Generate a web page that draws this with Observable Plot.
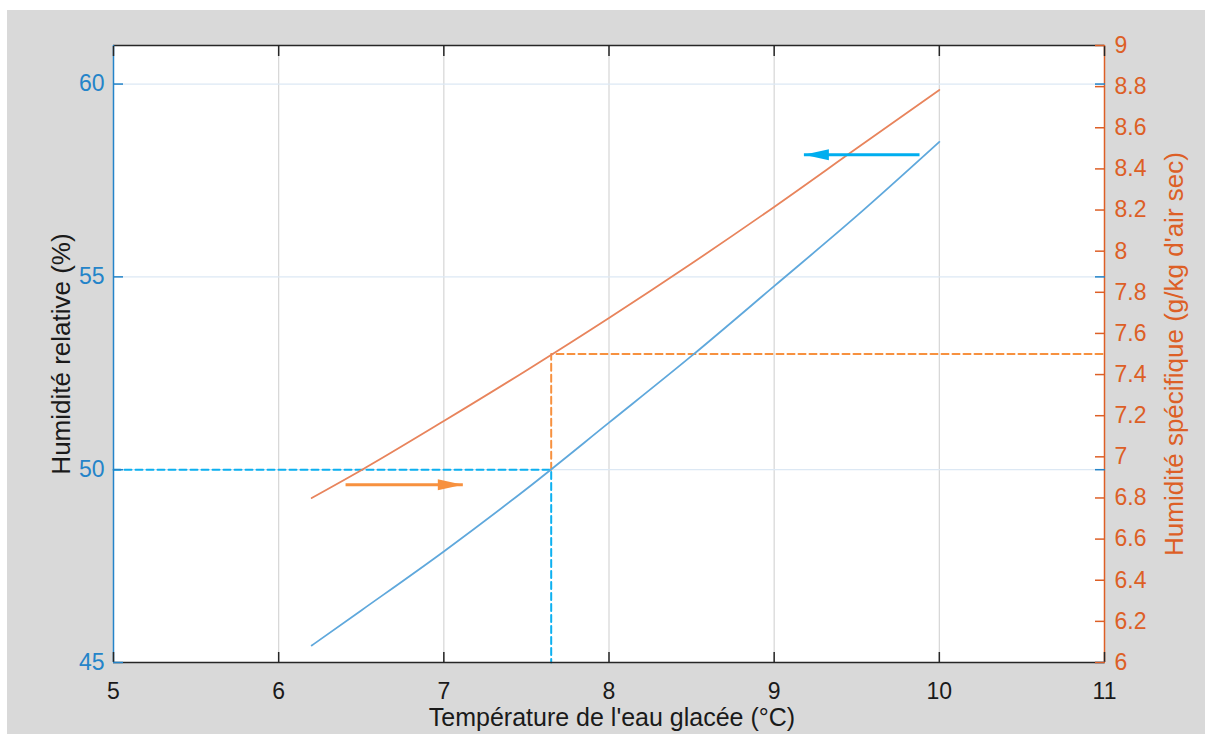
<!DOCTYPE html>
<html><head><meta charset="utf-8">
<script src="https://cdn.jsdelivr.net/npm/d3@7"></script>
<script src="https://cdn.jsdelivr.net/npm/@observablehq/plot@0.6"></script>
<style>
body{margin:0;background:#fff}
#wrap{position:relative;width:1205px;height:734px;overflow:hidden}
#bg{position:absolute;left:7px;top:10px;right:0;bottom:0;background:#d9d9d9}
#chart{position:absolute;left:0;top:0}
</style>
</head><body>
<div id="wrap"><div id="bg"></div><div id="chart"></div></div>
<script>
// Data
const tempEau = [6.2, 6.5, 7, 7.5, 8, 8.5, 9, 9.5, 10];
const humRel  = [45.44, 46.35, 47.88, 49.5, 51.22, 52.95, 54.76, 56.58, 58.5];
const humSpec = [6.80, 6.935, 7.174, 7.42, 7.675, 7.94, 8.215, 8.50, 8.784];
const xTicks = [5, 6, 7, 8, 9, 10, 11];
const xGrid = [6, 7, 8, 9, 10];
const yLeftTicks = [45, 50, 55, 60];
const yLeftGrid = [50, 55, 60];
const yRightTicks = [6, 6.2, 6.4, 6.6, 6.8, 7, 7.2, 7.4, 7.6, 7.8, 8, 8.2, 8.4, 8.6, 8.8, 9];
const xDomain = [5, 11];
const yLeftDomain = [45, 61];
const yRightDomain = [6, 9];
const tRef = 7.65, hrRef = 50, hsRef = 7.5;
const arrowOrange = {x1: 6.405, x2: 7.115, y: 49.61};
const arrowBlue = {x1: 9.88, x2: 9.18, y: 58.17};

const toL = v => yLeftDomain[0] + (v - yRightDomain[0]) * (yLeftDomain[1] - yLeftDomain[0]) / (yRightDomain[1] - yRightDomain[0]);
const fromL = v => yRightDomain[0] + (v - yLeftDomain[0]) * (yRightDomain[1] - yRightDomain[0]) / (yLeftDomain[1] - yLeftDomain[0]);

const rows = tempEau.map((t, i) => ({t, hr: humRel[i], hsL: toL(humSpec[i])}));
const dashBlue = [{x: xDomain[0], y: hrRef}, {x: tRef, y: hrRef}, {x: tRef, y: yLeftDomain[0]}];
const dashOrange = [{x: tRef, y: hrRef}, {x: tRef, y: toL(hsRef)}, {x: xDomain[1], y: toL(hsRef)}];

const BLUE_AX = "#2484c9", ORANGE_AX = "#dd5f26", DARK = "#262626";
const BLUE_LINE = "#5fa8dc", ORANGE_LINE = "#e8845c";
const BLUE_DASH = "#0db0f0", ORANGE_DASH = "#f7913f";
const FONT = 23;

const headRight = {draw(ctx) { ctx.moveTo(0, 0); ctx.lineTo(-25, -5.5); ctx.lineTo(-25, 5.5); ctx.closePath(); }};
const blank = () => "";

const chart = Plot.plot({
  width: 1205, height: 734,
  marginLeft: 113, marginRight: 101, marginTop: 45, marginBottom: 72,
  style: {background: "transparent", fontFamily: "'Liberation Sans', Arial, sans-serif"},
  x: {domain: xDomain, axis: null},
  y: {domain: yLeftDomain, axis: null},
  marks: [
    Plot.frame({fill: "white", stroke: "none"}),
    Plot.gridX(xGrid, {stroke: "#d6d6d6", strokeOpacity: 1, strokeWidth: 1.2}),
    Plot.gridY(yLeftGrid, {stroke: "#dce8f4", strokeOpacity: 1, strokeWidth: 1.2}),
    Plot.line(dashBlue, {x: "x", y: "y", stroke: BLUE_DASH, strokeWidth: 2, strokeDasharray: "7,4"}),
    Plot.line(dashOrange, {x: "x", y: "y", stroke: ORANGE_DASH, strokeWidth: 2, strokeDasharray: "7,4"}),
    Plot.line(rows, {x: "t", y: "hr", stroke: BLUE_LINE, strokeWidth: 1.8, curve: "monotone-x"}),
    Plot.line(rows, {x: "t", y: "hsL", stroke: ORANGE_LINE, strokeWidth: 1.8, curve: "monotone-x"}),
    // arrows
    Plot.link([arrowOrange], {x1: "x1", x2: "x2", y1: "y", y2: "y", stroke: ORANGE_DASH, strokeWidth: 3}),
    Plot.dot([arrowOrange], {x: "x2", y: "y", symbol: headRight, fill: ORANGE_DASH, stroke: "none"}),
    Plot.link([arrowBlue], {x1: "x1", x2: "x2", y1: "y", y2: "y", stroke: "#00aeef", strokeWidth: 3}),
    Plot.dot([arrowBlue], {x: "x2", y: "y", symbol: headRight, rotate: 180, fill: "#00aeef", stroke: "none"}),
    // borders
    Plot.ruleY([yLeftDomain[0]], {stroke: DARK, strokeWidth: 1.5}),
    Plot.ruleY([yLeftDomain[1]], {stroke: DARK, strokeWidth: 1.5}),
    Plot.ruleX([xDomain[0]], {stroke: BLUE_AX, strokeWidth: 1.5}),
    Plot.ruleX([xDomain[1]], {stroke: ORANGE_AX, strokeWidth: 1.5}),
    // x ticks
    Plot.axisX(xTicks, {anchor: "bottom", tickSize: -10, tickFormat: blank, stroke: DARK, strokeWidth: 1.5}),
    Plot.axisX(xTicks, {anchor: "top", tickSize: -10, tickFormat: blank, stroke: DARK, strokeWidth: 1.5}),
    Plot.axisX(xTicks, {anchor: "bottom", tickSize: 0, tickPadding: 20, fontSize: FONT, fill: "#1a1a1a", label: null, tickFormat: d => String(d)}),
    // left y
    Plot.axisY(yLeftTicks, {anchor: "left", tickSize: -10, tickFormat: blank, stroke: BLUE_AX, strokeWidth: 1.5}),
    Plot.axisY(yLeftTicks, {anchor: "right", tickSize: -10, tickFormat: blank, stroke: BLUE_AX, strokeWidth: 1.5}),
    Plot.axisY(yLeftTicks, {anchor: "left", tickSize: 0, tickPadding: 9, fontSize: FONT, fill: BLUE_AX, label: null, tickFormat: d => String(d)}),
    // right y (specific humidity)
    Plot.axisY(yRightTicks.map(toL), {anchor: "right", tickSize: -10, tickFormat: blank, stroke: ORANGE_AX, strokeWidth: 1.5}),
    Plot.axisY(yRightTicks.map(toL), {anchor: "right", tickSize: 0, tickPadding: 10, fontSize: FONT, fill: ORANGE_AX, label: null,
      tickFormat: d => String(+fromL(d).toFixed(1))}),
    // titles
    Plot.text(["Température de l'eau glacée (°C)"], {frameAnchor: "bottom", dx: 3, dy: 55, fontSize: 25, fill: "#1a1a1a", lineAnchor: "middle", textAnchor: "middle"}),
    Plot.text(["Humidité relative (%)"], {frameAnchor: "left", dx: -52, rotate: -90, fontSize: 26, fill: "#1a1a1a", lineAnchor: "middle", textAnchor: "middle"}),
    Plot.text(["Humidité spécifique (g/kg d'air sec)"], {frameAnchor: "right", dx: 70, rotate: -90, fontSize: 26, fill: ORANGE_AX, lineAnchor: "middle", textAnchor: "middle"})
  ]
});
document.getElementById("chart").appendChild(chart);
</script>
</body></html>
